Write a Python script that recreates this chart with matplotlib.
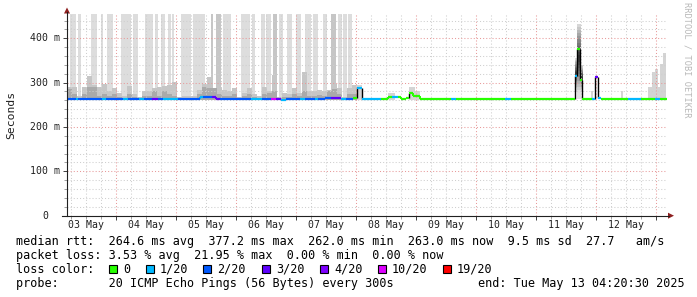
import numpy as np
import matplotlib
matplotlib.use("Agg")
import matplotlib.pyplot as plt
from matplotlib import transforms
from matplotlib.patches import Rectangle, Polygon
from matplotlib.lines import Line2D

# ---------------- DATA ----------------
# time in hours since 03 May 00:00, view runs 03 May 04:24 -> 13 May 04:24
t_start_h = 4.4
t_end_h = 244.4
day_labels = ["03 May", "04 May", "05 May", "06 May", "07 May",
              "08 May", "09 May", "10 May", "11 May", "12 May"]

# median rtt as steps: edges (h), value (ms), loss (of 20 pings)
seg_edges_h = [4.4, 8.0, 8.8, 14.0, 16.8, 18.4, 20.0, 26.8, 28.8, 33.2,
               35.2, 38.4, 40.8, 42.8, 48.8, 52.4, 57.6, 58.8, 62.4, 64.0,
               65.6, 78.0, 82.4, 86.0, 88.0, 90.0, 92.0, 97.6, 99.6, 103.6,
               104.8, 107.6, 110.0, 114.0, 116.0, 118.8, 120.4, 122.4, 130.0, 132.8,
               134.4, 136.8, 138.0, 140.0, 141.2, 142.8, 145.6, 158.0, 160.0, 179.6,
               182.0, 207.6, 208.4, 209.6, 210.4, 214.4, 215.6, 216.8, 218.0, 228.8,
               234.0, 239.6, 241.6, 244.4]
seg_ms = [262, 262, 262, 264, 262, 262, 262, 262, 262, 262,
          262, 264, 262, 262, 262, 263, 267, 267, 267, 264,
          262, 262, 262, 262, 262, 261, 262, 262, 262, 262,
          262, 265, 265, 263, 262, 266, 288, 262, 262, 267,
          267, 267, 263, 266, 276, 270, 262, 262, 262, 262,
          262, 315, 376, 306, 262, 262, 313, 266, 262, 262,
          262, 262, 262]
seg_loss = [2, 1, 2, 2, 2, 1, 2, 1, 2, 1,
            2, 3, 2, 1, 2, 2, 1, 2, 3, 3,
            2, 1, 2, 10, 3, 1, 2, 1, 2, 1,
            2, 2, 3, 1, 2, 0, 1, 1, 0, 0,
            1, 0, 0, 0, 0, 0, 0, 1, 0, 1,
            0, 1, 0, 0, 0, 1, 3, 1, 0, 1,
            0, 1, 0]

# smoke in 2 hour slots from 04:24 on 03 May (first 58 slots)
smoke_mid_ms = [289, 289, 270, 289, 314, 294, 291, 296, 280, 287,
                276, 270, 292, 274, 268, 280, 280, 287, 289, 292,
                294, 302, 268, 269, 270, 270, 284, 298, 312, 287,
                290, 284, 280, 287, 268, 276, 287, 274, 270, 291,
                280, 317, 268, 276, 274, 287, 276, 325, 280, 280,
                284, 280, 284, 296, 287, 268, 287, 294]
smoke_dark_ms = [285, 275, 265, 275, 290, 290, 270, 275, 270, 275,
                 268, 266, 275, 268, 265, 270, 270, 280, 270, 280,
                 275, 270, 265, 265, 265, 265, 275, 290, 287, 287,
                 275, 270, 270, 275, 265, 270, 275, 268, 265, 275,
                 277, 280, 265, 268, 268, 275, 270, 280, 270, 270,
                 272, 270, 280, 285, 275, 265, 275, 275]
smoke_floor_ms = 260

# high smoke (max ping off the top of the graph)
tall_top_ms = 454
tall_light_start_h = [5.6, 8.8, 14.0, 18.0, 20.4, 26.0, 30.8, 35.6, 39.6, 42.0,
                      44.8, 46.4, 50.0, 54.8, 66.8, 74.0, 78.4, 82.0, 84.0, 89.2,
                      92.4, 96.0, 99.6, 102.8, 106.8, 112.8, 114.8, 116.8]
tall_light_end_h = [8.0, 10.0, 16.4, 18.8, 22.8, 30.0, 32.8, 38.8, 40.8, 43.6,
                    46.0, 47.2, 54.0, 59.6, 70.0, 77.6, 79.6, 83.6, 86.0, 90.8,
                    94.4, 98.0, 102.0, 104.8, 108.4, 114.4, 116.4, 118.4]
tall_mid_start_h = [62.0, 64.0, 86.8, 110.0]
tall_mid_end_h = [62.8, 66.0, 88.4, 112.0]

# scattered smoke later in the period
extra_start_h = [120.0, 132.8, 141.2, 143.6, 214.0, 226.0, 236.8, 238.4, 239.6, 240.8, 241.6, 242.8]
extra_end_h = [122.4, 135.6, 143.6, 145.6, 214.8, 226.8, 238.4, 239.6, 240.8, 241.6, 242.8, 244.0]
extra_top_ms = [294, 276, 291, 280, 280, 280, 291, 325, 330, 291, 341, 367]

# smoke around the 11 May spike
spike_start_h = [207.6, 208.4, 210.0]
spike_end_h = [208.4, 210.0, 210.8]
spike_lo_ms = [278, 262, 278]
spike_hi_ms = [355, 433, 339]

loss_levels = [0, 1, 2, 3, 4, 10, 19]
loss_colors = ['#26ff00', '#00b8ff', '#0059ff', '#5e00ff', '#7e00ff', '#dd00ff', '#ff0000']
loss_names = ["0", "1/20", "2/20", "3/20", "4/20", "10/20", "19/20"]

legend_rtt = "median rtt:  264.6 ms avg  377.2 ms max  262.0 ms min  263.0 ms now  9.5 ms sd  27.7   am/s"
legend_loss = "packet loss: 3.53 % avg  21.95 % max  0.00 % min  0.00 % now"
legend_probe = "probe:       20 ICMP Echo Pings (56 Bytes) every 300s"
legend_end = "end: Tue May 13 04:20:30 2025"

# ---------------- FIGURE ----------------
W, H = 697, 297
MONO = 'DejaVu Sans Mono'
fig = plt.figure(figsize=(W / 100, H / 100), dpi=100)
fig.patch.set_facecolor('white')


def fx(px):
    return px / W


def fy(py):
    return 1 - py / H


ax = fig.add_axes([fx(67), fy(215.7), fx(667) - fx(67), fy(14.3) - fy(215.7)])
ax.set_xlim(t_start_h, t_end_h)
ax.set_ylim(0, tall_top_ms)
for s in ax.spines.values():
    s.set_visible(False)

color_of = dict(zip(loss_levels, loss_colors))

# smoke
ax.bar(tall_light_start_h, tall_top_ms - smoke_floor_ms, bottom=smoke_floor_ms,
       width=np.array(tall_light_end_h) - np.array(tall_light_start_h),
       align='edge', color='#dddddd', lw=0, zorder=1.0)
ax.bar(tall_mid_start_h, tall_top_ms - smoke_floor_ms, bottom=smoke_floor_ms,
       width=np.array(tall_mid_end_h) - np.array(tall_mid_start_h),
       align='edge', color='#c6c6c6', lw=0, zorder=1.05)
slot_x = t_start_h + 2.0 * np.arange(len(smoke_mid_ms))
ax.bar(slot_x, np.array(smoke_mid_ms) - smoke_floor_ms, bottom=smoke_floor_ms,
       width=2.0, align='edge', color='#c6c6c6', lw=0, zorder=1.1)
ax.bar(slot_x, np.array(smoke_dark_ms) - smoke_floor_ms, bottom=smoke_floor_ms,
       width=2.0, align='edge', color='#aaaaaa', lw=0, zorder=1.2)
ax.bar(extra_start_h, np.array(extra_top_ms) - smoke_floor_ms, bottom=smoke_floor_ms,
       width=np.array(extra_end_h) - np.array(extra_start_h),
       align='edge', color='#d4d4d4', lw=0, zorder=1.1)

# spike smoke: graded grey, darkest around the middle of the spread
for s0, s1, lo, hi in zip(spike_start_h, spike_end_h, spike_lo_ms, spike_hi_ms):
    edges = np.linspace(lo, hi, 25)
    mid = lo + 0.55 * (hi - lo)
    for b0, b1 in zip(edges[:-1], edges[1:]):
        d = abs((b0 + b1) / 2 - mid) / (hi - lo) * 2
        g = min(0.88, 0.2 + 0.75 * d)
        ax.bar(s0, b1 - b0, bottom=b0, width=s1 - s0, align='edge',
               color=(g, g, g), lw=0, zorder=1.3)

# grid
ax.set_yticks(np.arange(0, 401, 100))
ax.set_yticks(np.arange(0, tall_top_ms, 20), minor=True)
ax.set_xticks(np.arange(24, t_end_h, 24))
ax.set_xticks(np.arange(6, t_end_h, 6), minor=True)
ax.set_axisbelow(False)
ax.grid(which='minor', color='#cfcfcf', ls=(0, (1, 2)), lw=0.75)
ax.grid(which='major', color='#e89a9a', ls=(0, (1, 2)), lw=0.75)
ax.tick_params(which='both', direction='out', color='#404040', width=0.7,
               labelleft=False, labelbottom=False)
ax.tick_params(which='major', length=3)
ax.tick_params(which='minor', length=2, color='#a0a0a0')

# median rtt line coloured by loss
n = len(seg_ms)
for i in range(n):
    ax.hlines(seg_ms[i], seg_edges_h[i], seg_edges_h[i + 1],
              color=color_of[seg_loss[i]], lw=1.6, zorder=4)
for i in range(n - 1):
    a, b = seg_ms[i], seg_ms[i + 1]
    if a != b:
        if abs(a - b) > 8:
            ax.vlines(seg_edges_h[i + 1], min(a, b), max(a, b), color='#000000', lw=1.0, zorder=3.5)
        else:
            ax.vlines(seg_edges_h[i + 1], min(a, b), max(a, b),
                      color=color_of[seg_loss[i + 1]], lw=1.4, zorder=3.5)

# axis lines + arrows
axis_col = '#202020'
fig.add_artist(Line2D([fx(67), fx(67)], [fy(216), fy(12)], color=axis_col, lw=0.8))
fig.add_artist(Line2D([fx(62), fx(669)], [fy(215.7), fy(215.7)], color=axis_col, lw=0.8))
arrow_col = '#8f1f1f'
fig.add_artist(Polygon([[fx(64), fy(13.5)], [fx(70), fy(13.5)], [fx(67), fy(7.5)]],
                       closed=True, color=arrow_col, lw=0))
fig.add_artist(Polygon([[fx(668), fy(212.7)], [fx(668), fy(218.7)], [fx(674), fy(215.7)]],
                       closed=True, color=arrow_col, lw=0))

# tick labels
ytrans = transforms.blended_transform_factory(fig.transFigure, ax.transData)
for v in np.arange(0, 401, 100):
    if v == 0:
        ax.text(fx(48.5), v, "0", transform=ytrans, ha='right', va='center',
                fontsize=7.1, family=MONO, color='#202020')
    else:
        ax.text(fx(59.5), v, f"{v} m", transform=ytrans, ha='right', va='center',
                fontsize=7.1, family=MONO, color='#202020')
xtrans = transforms.blended_transform_factory(ax.transData, fig.transFigure)
for i, lab in enumerate(day_labels):
    ax.text(12 + 24 * i, fy(225.5), lab, transform=xtrans, ha='center', va='center',
            fontsize=7.1, family=MONO, color='#202020')

fig.text(fx(11), fy(114.5), "Seconds", rotation=90, ha='center', va='center',
         fontsize=8.2, family=MONO, color='#202020')
fig.text(fx(687.5), fy(60), "RRDTOOL / TOBI OETIKER", rotation=270, ha='center', va='center',
         fontsize=6.2, family=MONO, color='#b8b8b8')

# legend
fs = 8.5
fig.text(fx(16), fy(245), legend_rtt, va='baseline', ha='left', fontsize=fs, family=MONO)
fig.text(fx(16), fy(259), legend_loss, va='baseline', ha='left', fontsize=fs, family=MONO)
fig.text(fx(16), fy(273), "loss color:", va='baseline', ha='left', fontsize=fs, family=MONO)
box_px = [109, 146, 203, 262, 320, 378, 443]
for bx, col, name in zip(box_px, loss_colors, loss_names):
    fig.add_artist(Rectangle((fx(bx), fy(273)), 8 / W, 8 / H, transform=fig.transFigure,
                             facecolor=col, edgecolor='black', lw=0.8))
    fig.text(fx(bx + 14), fy(273), name, va='baseline', ha='left', fontsize=fs, family=MONO)
fig.text(fx(16), fy(287), legend_probe, va='baseline', ha='left', fontsize=fs, family=MONO)
fig.text(fx(478), fy(287), legend_end, va='baseline', ha='left', fontsize=fs, family=MONO)

fig.savefig("out.png", dpi=100, facecolor='white')
